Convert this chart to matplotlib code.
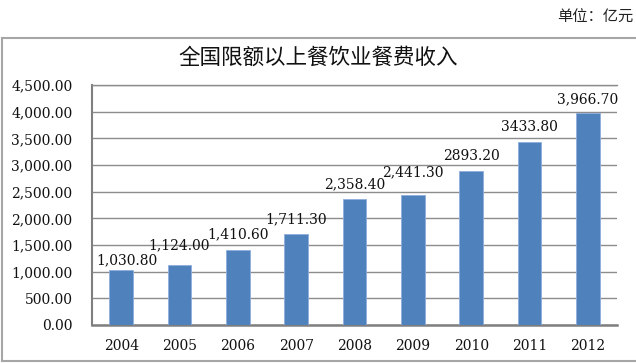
import matplotlib
matplotlib.use("Agg")
import matplotlib.pyplot as plt
from matplotlib.lines import Line2D

years = ["2004", "2005", "2006", "2007", "2008", "2009", "2010", "2011", "2012"]
values = [1030.8, 1124.0, 1410.6, 1711.3, 2358.4, 2441.3, 2893.2, 3433.8, 3966.7]
labels = ["1,030.80", "1,124.00", "1,410.60", "1,711.30", "2,358.40",
          "2,441.30", "2893.20", "3433.80", "3,966.70"]
yticks = [0, 500, 1000, 1500, 2000, 2500, 3000, 3500, 4000, 4500]
ytick_labels = ["{:,.2f}".format(v) for v in yticks]
title = "全国限额以上餐饮业餐费收入"
unit = "单位：亿元"

label_offsets_px = [10, 20, 15, 14, 15, 23, 15, 15, 14]
label_dx_px = [6, 0, 0, 0, 0, 0, 0, 0, 0]

W, H = 636, 363
fig = plt.figure(figsize=(W / 100, H / 100), dpi=100)
serif = ["DejaVu Serif"]
cjk = ["Noto Sans CJK SC", "DejaVu Sans"]

ax = fig.add_axes([92 / W, 1 - 325 / H, (617 - 92) / W, (325 - 85) / H])
x = list(range(len(years)))
ax.bar(x, values, width=0.41, color="#4F81BD", edgecolor="#8FAEDB", linewidth=0.6, zorder=3)
ax.set_xlim(-0.5, len(years) - 0.5)
ax.set_ylim(0, 4500)
ax.set_yticks(yticks)
ax.set_yticklabels(ytick_labels, family=serif, fontsize=10, color="#111111")
ax.set_xticks(x)
ax.set_xticklabels(years, family=serif, fontsize=10, color="#111111")
ax.tick_params(axis="both", length=0)
ax.tick_params(axis="y", pad=14)
ax.tick_params(axis="x", pad=10)
ax.grid(axis="y", color="#8C8C8C", linewidth=1.0, zorder=0)
ax.spines["right"].set_visible(False)
ax.spines["top"].set_color("#8C8C8C")
ax.spines["top"].set_linewidth(1.0)
ax.spines["left"].set_color("#7F7F7F")
ax.spines["left"].set_linewidth(1.5)
ax.spines["bottom"].set_color("#7F7F7F")
ax.spines["bottom"].set_linewidth(1.8)

for i, (v, lab) in enumerate(zip(values, labels)):
    ax.annotate(lab, (i, v), xytext=(label_dx_px[i] * 0.72, label_offsets_px[i] * 0.72),
                textcoords="offset points", ha="center", va="center",
                family=serif, fontsize=10, color="#111111", zorder=4)

fig.text(318 / W, 1 - 58 / H, title, family=cjk, fontsize=15.5, ha="center", va="center", color="#111111")
fig.text(633 / W, 1 - 17 / H, unit, family=cjk, fontsize=11, ha="right", va="center", color="#222222")

border_kw = dict(color="#A6A6A6", linewidth=1.5, transform=fig.transFigure)
fig.add_artist(Line2D([1.5 / W, 1.0], [1 - 38 / H, 1 - 38 / H], **border_kw))
fig.add_artist(Line2D([1.5 / W, 1.0], [1 - 361 / H, 1 - 361 / H], **border_kw))
fig.add_artist(Line2D([1.5 / W, 1.5 / W], [1 - 38 / H, 1 - 361 / H], **border_kw))

fig.savefig("out.png", dpi=100)
